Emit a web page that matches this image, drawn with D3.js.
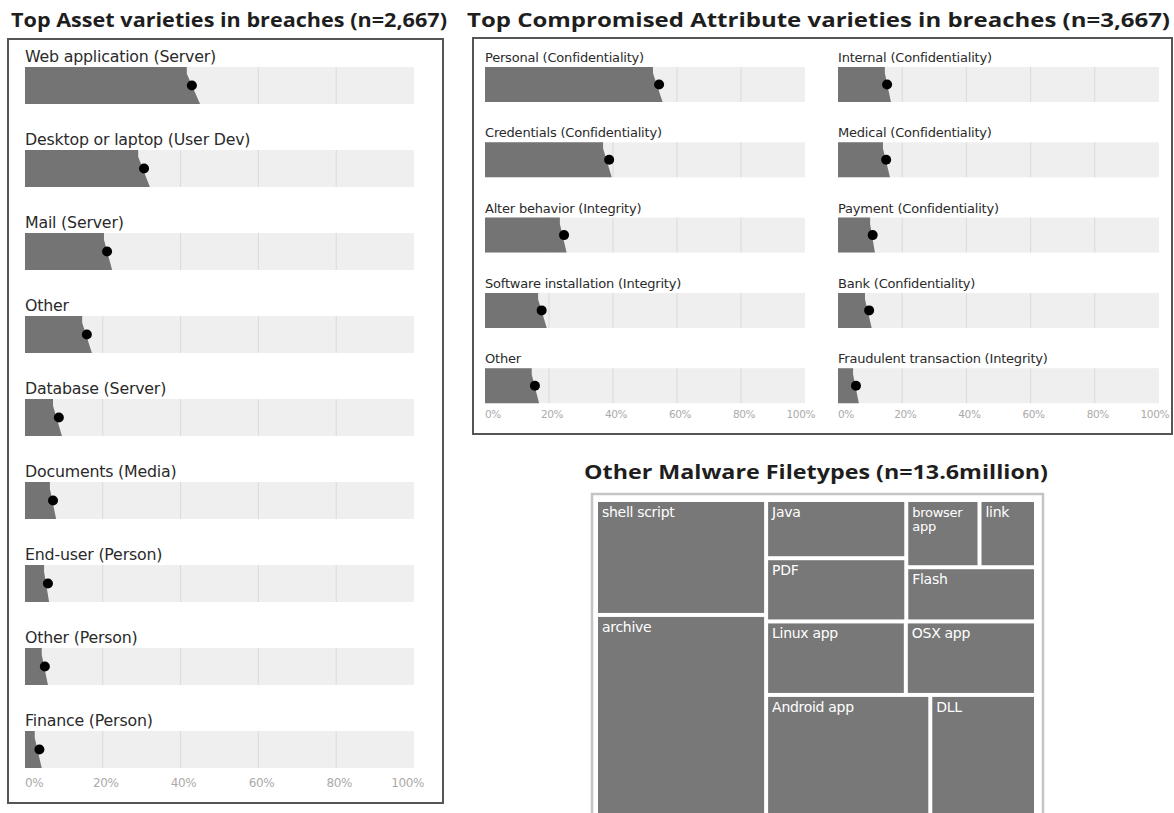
<!DOCTYPE html>
<html>
<head>
<meta charset="utf-8">
<script src="https://cdn.jsdelivr.net/npm/d3@7/dist/d3.min.js"></script>
<style>
  html, body { margin: 0; padding: 0; background: #fff; }
  svg { display: block; }
</style>
</head>
<body>
<svg id="chart" width="1174" height="813"></svg>
<script>
// ---- data ----
const tickValues = [0, 20, 40, 60, 80, 100];

const assetNames = [
  "Web application (Server)", "Desktop or laptop (User Dev)", "Mail (Server)",
  "Other", "Database (Server)", "Documents (Media)", "End-user (Person)",
  "Other (Person)", "Finance (Person)"
];
const assetValues = [42.9, 30.6, 21.1, 15.9, 8.7, 7.2, 5.9, 5.1, 3.7];
const assetLow    = [41.6, 29.1, 20.3, 14.7, 7.2, 6.4, 4.9, 4.3, 2.5];
const assetHigh   = [45.0, 32.1, 22.4, 17.2, 9.5, 8.0, 6.2, 5.9, 4.3];

const attrNamesLeft = [
  "Personal (Confidentiality)", "Credentials (Confidentiality)",
  "Alter behavior (Integrity)", "Software installation (Integrity)", "Other"
];
const attrValuesLeft = [54.4, 38.8, 24.7, 17.7, 15.6];
const attrLowLeft    = [52.5, 36.9, 23.4, 16.6, 14.6];
const attrHighLeft   = [55.5, 39.6, 25.5, 19.3, 16.9];

const attrNamesRight = [
  "Internal (Confidentiality)", "Medical (Confidentiality)",
  "Payment (Confidentiality)", "Bank (Confidentiality)",
  "Fraudulent transaction (Integrity)"
];
const attrValuesRight = [15.3, 15.0, 10.8, 9.7, 5.6];
const attrLowRight    = [14.6, 14.0, 10.0, 8.4, 4.7];
const attrHighRight   = [16.5, 16.2, 11.5, 10.5, 6.5];

const fileTypes = [
  "shell script", "archive", "Java", "PDF", "browser app", "link",
  "Flash", "Linux app", "OSX app", "Android app", "DLL"
];
const fileTypeShare = [13.9, 24.8, 5.8, 6.3, 3.5, 2.7, 5.0, 7.3, 6.8, 14.6, 9.4];
// grouping used for the nested slice/dice layout
const fileTypeGroup = [
  "a", "a", "b/r1/jp", "b/r1/jp", "b/r1/rg/bl", "b/r1/rg/bl",
  "b/r1/rg", "b/r2", "b/r2", "b/r3", "b/r3"
];

// ---- drawing ----
const svg = d3.select("#chart");
const TITLE_FONT = "'Open Sans', 'Liberation Sans', sans-serif";
const LABEL_FONT = "'DejaVu Sans', sans-serif";

function title(text, x, y, len) {
  svg.append("text")
    .attr("x", x).attr("y", y)
    .attr("font-family", TITLE_FONT)
    .attr("font-weight", 700)
    .attr("font-size", 19.5)
    .attr("fill", "#1e1e1e")
    .attr("textLength", len)
    .attr("lengthAdjust", "spacingAndGlyphs")
    .text(text);
}

function barPanel(opts) {
  const { names, values, lows, highs, x0, x1, top, step, barH,
          labelSize, labelSpacing, tickY, tickSize } = opts;
  const g = svg.append("g");
  const x = d3.scaleLinear().domain([0, 100]).range([x0, x1]);
  const y = d3.scaleBand().domain(names).range([top, top + step * names.length]);

  const rows = g.selectAll("g.row")
    .data(names.map((n, i) => ({ name: n, v: values[i], lo: lows[i], hi: highs[i] })))
    .join("g").attr("class", "row")
    .attr("transform", d => `translate(0,${y(d.name)})`);

  // background track
  rows.append("rect")
    .attr("x", x(0)).attr("y", 0)
    .attr("width", x(100) - x(0)).attr("height", barH)
    .attr("fill", "#efefef");

  // grid lines
  rows.selectAll("line.grid")
    .data(tickValues.slice(1, -1))
    .join("line").attr("class", "grid")
    .attr("x1", t => x(t)).attr("x2", t => x(t))
    .attr("y1", 0).attr("y2", barH)
    .attr("stroke", "#dadada").attr("stroke-width", 1);

  // filled estimate with slanted end spanning low..high
  rows.append("path")
    .attr("d", d => d3.line()([
      [x(0), 0], [x(d.lo), 0], [x(d.lo), barH * 0.18],
      [x(d.hi), barH], [x(0), barH]
    ]) + "Z")
    .attr("fill", "#747474");

  // point estimate
  rows.append("circle")
    .attr("cx", d => x(d.v)).attr("cy", barH / 2)
    .attr("r", 5).attr("fill", "#000");

  // category labels
  rows.append("text")
    .attr("x", x(0)).attr("y", -5)
    .attr("font-family", LABEL_FONT)
    .attr("font-size", labelSize)
    .attr("letter-spacing", labelSpacing)
    .attr("fill", "#2a2a2a")
    .text(d => d.name);

  // tick labels
  g.selectAll("text.tick")
    .data(tickValues)
    .join("text").attr("class", "tick")
    .attr("x", t => t === 0 ? x(t) : t === 100 ? x(t) + 10 : x(t) + 3)
    .attr("y", tickY)
    .attr("text-anchor", t => t === 0 ? "start" : t === 100 ? "end" : "middle")
    .attr("font-family", LABEL_FONT)
    .attr("font-size", tickSize)
    .attr("letter-spacing", -0.4)
    .attr("fill", "#aaaaaa")
    .text(t => t + "%");
}

// Left panel: asset varieties
title("Top Asset varieties in breaches (n=2,667)", 11, 27, 436);
svg.append("rect")
  .attr("x", 8).attr("y", 39).attr("width", 435).attr("height", 764)
  .attr("fill", "none").attr("stroke", "#555").attr("stroke-width", 2);
barPanel({
  names: assetNames, values: assetValues, lows: assetLow, highs: assetHigh,
  x0: 25, x1: 414, top: 67, step: 83, barH: 37,
  labelSize: 15.8, labelSpacing: -0.2, tickY: 787, tickSize: 12
});

// Right-top panel: compromised attribute varieties
title("Top Compromised Attribute varieties in breaches (n=3,667)", 467, 27, 703);
svg.append("rect")
  .attr("x", 473).attr("y", 38).attr("width", 699).attr("height", 396)
  .attr("fill", "none").attr("stroke", "#555").attr("stroke-width", 2);
barPanel({
  names: attrNamesLeft, values: attrValuesLeft, lows: attrLowLeft, highs: attrHighLeft,
  x0: 485, x1: 805, top: 67, step: 75.3, barH: 35,
  labelSize: 13, labelSpacing: -0.2, tickY: 418, tickSize: 10.5
});
barPanel({
  names: attrNamesRight, values: attrValuesRight, lows: attrLowRight, highs: attrHighRight,
  x0: 838, x1: 1159, top: 67, step: 75.3, barH: 35,
  labelSize: 13, labelSpacing: -0.2, tickY: 418, tickSize: 10.5
});

// Treemap: other malware filetypes
title("Other Malware Filetypes (n=13.6million)", 584, 479, 464);
svg.append("rect")
  .attr("x", 592).attr("y", 494).attr("width", 451).attr("height", 340)
  .attr("fill", "none").attr("stroke", "#c4c4c4").attr("stroke-width", 2.5);

// build nested tree from group paths
const treeRoot = { name: "root", children: [] };
fileTypes.forEach((name, i) => {
  let node = treeRoot;
  fileTypeGroup[i].split("/").forEach(key => {
    let child = node.children.find(c => c.name === key && c.children);
    if (!child) { child = { name: key, children: [] }; node.children.push(child); }
    node = child;
  });
  node.children.push({ name, value: fileTypeShare[i] });
});

const root = d3.hierarchy(treeRoot).sum(d => d.value || 0);
d3.treemap()
  .size([436, 316])
  .paddingInner(4)
  .tile(d3.treemapSliceDice)(root);

const tm = svg.append("g").attr("transform", "translate(598,502)");
const leaves = tm.selectAll("g.leaf")
  .data(root.leaves())
  .join("g").attr("class", "leaf")
  .attr("transform", d => `translate(${d.x0},${d.y0})`);

leaves.append("rect")
  .attr("width", d => d.x1 - d.x0)
  .attr("height", d => d.y1 - d.y0)
  .attr("fill", "#787878");

leaves.append("text")
  .attr("x", 4).attr("y", 15)
  .attr("font-family", LABEL_FONT)
  .attr("font-size", 14)
  .attr("letter-spacing", -0.3)
  .attr("fill", "#fff")
  .each(function (d) {
    const el = d3.select(this);
    const w = d.x1 - d.x0;
    const words = d.data.name.split(" ");
    if (w < 80 && words.length > 1) {
      el.attr("font-size", 13);
      words.forEach((wd, k) => el.append("tspan").attr("x", 4).attr("dy", k ? 14 : 0).text(wd));
    } else {
      el.text(d.data.name);
    }
  });
</script>
</body>
</html>
